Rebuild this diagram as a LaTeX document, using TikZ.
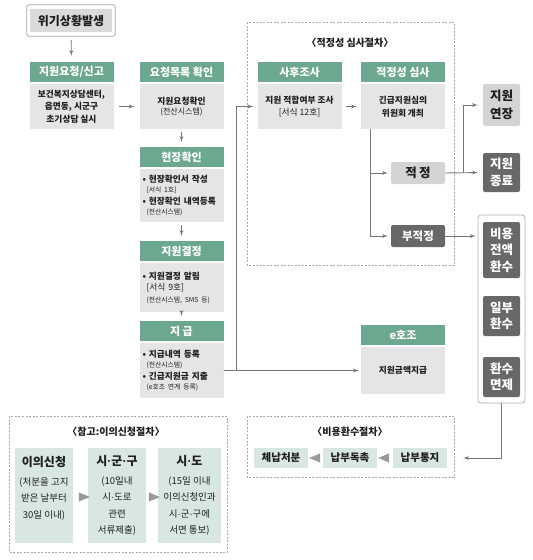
\documentclass[tikz,border=0pt]{standalone}
\usepackage{fontspec}
\setmainfont{Noto Sans CJK KR}
\newfontfamily\dotfont{Liberation Sans}
\usepackage{tikz}
\usetikzlibrary{%
	arrows,
	shapes,
	shapes.geometric,% wg. isosceles triangle
	positioning
}
\definecolor{headgreen}{RGB}{108,167,144}
\definecolor{bodygray}{RGB}{229,229,229}
\definecolor{lightgray}{RGB}{212,212,212}
\definecolor{darkbox}{RGB}{104,104,104}
\definecolor{refgreen}{RGB}{216,231,224}
\definecolor{linegray}{RGB}{118,118,118}
\definecolor{textdark}{RGB}{30,30,30}
\newcommand{\smtxt}[1]{{\mdseries\fontsize{6.8}{9}\selectfont #1}}
\newcommand{\md}{{\dotfont ·}}
\tikzstyle{head} = [fill=headgreen, text=white, minimum width=84pt, minimum height=20pt, inner sep=0pt, font=\fontsize{11}{13}\selectfont\bfseries]
\tikzstyle{body} = [fill=bodygray, text=textdark, minimum width=84pt, inner sep=2pt, align=center, font=\fontsize{8.7}{12.5}\selectfont\bfseries]
\tikzstyle{crisis} = [fill=lightgray!85, text=textdark, minimum width=82pt, minimum height=23pt, inner sep=0pt, font=\fontsize{12}{14}\selectfont\bfseries]
\tikzstyle{lightbox} = [fill=lightgray, text=textdark, rounded corners=2pt, minimum width=37pt, inner sep=0pt, align=center, font=\fontsize{12.5}{18}\selectfont\bfseries]
\tikzstyle{darkbox} = [fill=darkbox, text=white, rounded corners=2pt, minimum width=37pt, inner sep=0pt, align=center, font=\fontsize{12.5}{16.5}\selectfont\bfseries]
\tikzstyle{groupbox} = [draw=gray!60, line width=0.8pt, rounded corners=3pt, fill=white, minimum width=47pt, minimum height=188pt]
\tikzstyle{refbox} = [fill=refgreen, text=textdark, minimum height=95pt, inner sep=1pt, align=center, font=\fontsize{9.5}{16.5}\selectfont]
\tikzstyle{stepname} = [fill=refgreen, text=textdark, minimum width=54pt, minimum height=20pt, inner sep=0pt, font=\fontsize{10.5}{12}\selectfont\bfseries]
\tikzstyle{frame} = [draw=gray!70, line width=0.6pt, dash pattern=on 2pt off 1.5pt]
\tikzstyle{frametitle} = [text=textdark, font=\fontsize{10}{12}\selectfont\bfseries]
\tikzstyle{tri} = [isosceles triangle, fill=gray!80, minimum width=9pt, minimum height=6pt, inner sep=0pt]
\tikzstyle{line} = [draw=linegray, -latex', line width=0.9pt]

\begin{document}
\begin{tikzpicture}[x=1pt,y=-1pt]
	\useasboundingbox (0,0) rectangle (533,560);
	
	% dashed frames with their titles
	\draw[frame] (247,22) rectangle (454,265);
	\draw[frame] (247,416) rectangle (454,477);
	\draw[frame] (9,416) rectangle (227,552);
	\node[frametitle] (revtitle) at (350,43) {〈적정성 심사절차〉};
	\node[frametitle] (rettitle) at (350,432) {〈비용환수절차〉};
	\node[frametitle] (objtitle) at (116,432) {〈참고:이의신청절차〉};
	
	% starting point
	\node[crisis] (crisis) at (71,20.5) {위기상황발생};
	\draw[draw=gray!70, line width=0.8pt, rounded corners=2pt] ([shift={(-3,-4)}]crisis.north west) rectangle ([shift={(3,4)}]crisis.south east);
	
	% green headers
	\foreach \pos/\name/\txt in {{(71.5,72)/reqh/{지원요청/신고}}, {(181.5,72)/listh/{요청목록 확인}},
		{(181.5,157)/siteh/{현장확인}}, {(181.5,251)/decideh/{지원결정}}, {(181.5,331)/payh/{지 급}},
		{(299.5,72)/posth/{사후조사}}, {(403,72)/revh/{적정성 심사}}, {(403,335)/eh/{e호조}}}
	\node[head] (\name) at \pos {\txt};
	
	% gray bodies
	\node[body, minimum height=45pt] (reqbody) at (71.5,106.5) {보건복지상담센터,\\읍면동, 시군구\\초기상담 실시};
	\node[body, minimum height=45pt] (listbody) at (181.5,106.5) {지원요청확인\\[-2pt]{\mdseries\fontsize{8}{9}\selectfont (전산시스템)}};
	\node[body, minimum height=53pt, align=left, text width=78pt] (sitebody) at (181.5,195.5)
		{• 현장확인서 작성\\[-2pt] \hspace*{4pt}\smtxt{[서식 1호]}\\[-1pt]• 현장확인 내역등록\\[-2pt] \hspace*{4pt}\smtxt{(전산시스템)}};
	\node[body, minimum height=49pt, align=left, text width=78pt] (decidebody) at (181.5,287.5)
		{• 지원결정 알림\\[-1pt] \hspace*{4pt}{\mdseries [서식 9호]}\\[-1pt] \hspace*{4pt}\smtxt{(전산시스템, SMS 등)}};
	\node[body, minimum height=55pt, align=left, text width=78pt] (paybody) at (181.5,370.5)
		{• 지급내역 등록\\[-2pt] \hspace*{4pt}\smtxt{(전산시스템)}\\[-1pt]• 긴급지원금 지출\\[-2pt] \hspace*{4pt}\smtxt{(e호조 연계 등록)}};
	\node[body, minimum height=45pt] (postbody) at (299.5,106.5) {지원 적합여부 조사\\[-1pt]{\mdseries [서식 12호]}};
	\node[body, minimum height=45pt] (revbody) at (403,106.5) {긴급지원심의\\위원회 개최};
	\node[body, minimum height=47pt] (ebody) at (403,370.5) {지원금액지급};
	
	% results of the review
	\node[lightbox, minimum width=54pt, minimum height=22pt] (ok) at (418,173) {적\,정};
	\node[darkbox, minimum width=54pt, minimum height=22pt, font=\fontsize{11.5}{13}\selectfont\bfseries] (nok) at (418,236) {부적정};
	\node[lightbox, minimum height=42pt] (ext) at (501.5,105) {지원\\연장};
	\node[darkbox, minimum height=39pt] (stop) at (501.5,172.5) {지원\\종료};
	\node[groupbox] (grp) at (501.5,309) {};
	\node[darkbox, minimum height=56pt] (full) at (501.5,250) {비용\\전액\\환수};
	\node[darkbox, minimum height=40pt] (part) at (501.5,316) {일부\\환수};
	\node[darkbox, minimum height=40pt] (free) at (501.5,377) {환수\\면제};
	
	% recovery steps
	\foreach \pos/\name/\txt in {{(281,458)/seize/체납처분}, {(350,458)/urge/납부독촉}, {(420,458)/notice/납부통지}}
	\node[stepname] (\name) at \pos {\txt};
	\node[tri, shape border rotate=180] (ta) at (317,458) {};
	\node[tri, shape border rotate=180] (tb) at (386,458) {};
	
	% objection steps
	\node[refbox, minimum width=58pt] (obj) at (44,495.5) {{\fontsize{12}{14}\selectfont\bfseries 이의신청}\\[2pt](처분을 고지\\받은 날부터\\30일 이내)\\ \mbox{}};
	\node[refbox, minimum width=58pt] (city) at (117,495.5) {{\fontsize{12}{14}\selectfont\bfseries 시\md 군\md 구}\\[2pt](10일내\\시\md 도로\\관련\\서류제출)};
	\node[refbox, minimum width=63pt] (prov) at (189.5,495.5) {{\fontsize{12}{14}\selectfont\bfseries 시\md 도}\\[2pt](15일 이내\\이의신청인과\\시\md 군\md 구에\\서면 통보)};
	\node[tri] (tc) at (82,497) {};
	\node[tri] (td) at (152,497) {};
	
	% Connect the boxes
	\path[line, shorten <=8pt, shorten >=6pt] (crisis) -- (reqh);
	\path[line, shorten <=5pt, shorten >=5pt] (reqbody) -- (listbody);
	\foreach \source/\dest in {listbody/siteh, sitebody/decideh, decidebody/payh}
	\path[line, shorten <=3pt, shorten >=5pt] (\source) -- (\dest);
	\path[line, shorten >=2pt] (paybody.east) -- (paybody.east -| ebody.west);
	\coordinate (up) at (236,370.5);
	\path[line, shorten >=4pt] (up) |- (postbody.west);
	\path[line, shorten <=4pt, shorten >=4pt] (postbody) -- (revbody);
	
	% review branches
	\coordinate (split) at ([xshift=10pt]revbody.south west);
	\path[line, shorten >=3pt] (split) |- (ok.west);
	\path[line, shorten >=3pt] (split) |- (nok.west);
	\path[line, shorten >=5pt] (ok.east) -- (stop.west);
	\coordinate (fork) at (463,173);
	\path[line, shorten >=5pt] (fork) |- (ext.west);
	\path[line, shorten >=2pt] (nok.east) -- (nok.east -| grp.west);
	\path[line, shorten >=16pt] (grp.south) |- (notice.east);
	
\end{tikzpicture}
\end{document}
